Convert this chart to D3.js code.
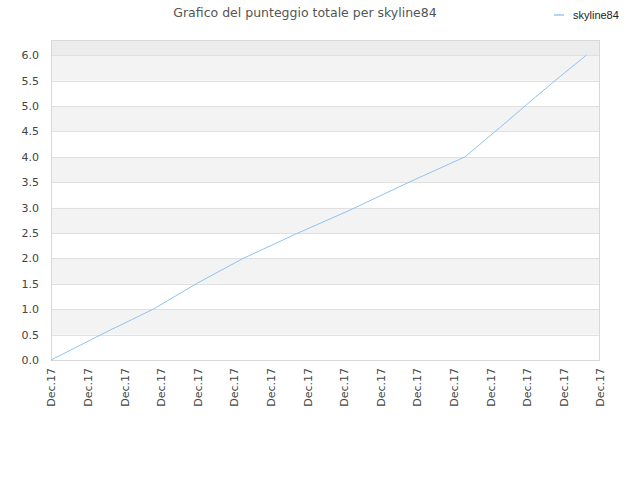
<!DOCTYPE html>
<html>
<head>
<meta charset="utf-8">
<script src="https://cdn.jsdelivr.net/npm/d3@7"></script>
<style>
  body { margin: 0; background: #fff; }
  svg { display: block; font-family: "DejaVu Sans", sans-serif; }
</style>
</head>
<body>
<div id="chart"></div>
<script>
// series: cumulative score over time
var seriesName = 'skyline84';
var times = [
  '2017-12-01T00:00', '2017-12-02T11:30', '2017-12-03T19:00', '2017-12-04T23:45',
  '2017-12-06T06:00', '2017-12-07T17:15', '2017-12-09T04:00', '2017-12-10T19:30',
  '2017-12-12T07:30', '2017-12-13T06:30', '2017-12-14T00:00', '2017-12-14T18:30',
  '2017-12-15T15:00'
];
var scores = [0.0, 0.54, 1.0, 1.51, 2.0, 2.49, 2.95, 3.51, 4.0, 4.58, 5.03, 5.5, 6.0];
var yTicks = [0, 0.5, 1, 1.5, 2, 2.5, 3, 3.5, 4, 4.5, 5, 5.5, 6];
var xStart = '2017-12-01T00:00',
    xEnd = '2017-12-16T00:00';
var title = 'Grafico del punteggio totale per skyline84';

var width = 640,
    height = 480,
    margin = {top: 40, right: 40, bottom: 120, left: 51},
    innerW = width - margin.left - margin.right,
    innerH = height - margin.top - margin.bottom;

var parse = d3.utcParse('%Y-%m-%dT%H:%M'),
    fmtX = d3.utcFormat('%b.%y');

var data = times.map(function(t, i) { return {t: parse(t), v: scores[i]}; });

var x = d3.scaleUtc()
  .domain([parse(xStart), parse(xEnd)])
  .range([0, innerW]);

var y = d3.scaleLinear()
  .domain([0, 6.3])
  .range([innerH, 0]);

var svg = d3.select('#chart')
  .append('svg')
  .attr('width', width)
  .attr('height', height);

svg.append('text')
  .attr('x', 305)
  .attr('y', 17)
  .attr('text-anchor', 'middle')
  .style('font-size', '12.5px')
  .style('fill', '#555')
  .text(title);

// legend
var legend = svg.append('g').attr('transform', 'translate(554,15)');
legend.append('line')
  .attr('x1', 0).attr('x2', 10)
  .attr('stroke', '#99c9f5')
  .attr('stroke-width', 1.5);
legend.append('text')
  .attr('x', 19)
  .attr('y', 4)
  .style('font-family', '"Liberation Sans", Arial, sans-serif')
  .style('font-size', '11px')
  .style('fill', '#222')
  .text(seriesName);

var g = svg.append('g')
  .attr('transform', 'translate(' + margin.left + ',' + margin.top + ')');

// background bands
var bands = [];
for (var i = 0; i < yTicks.length - 1; i++) {
  bands.push({lo: yTicks[i], hi: yTicks[i + 1], shade: i % 2 === 1});
}
bands.push({lo: 6, hi: y.domain()[1], top: true});

g.selectAll('rect.band')
  .data(bands)
  .enter()
  .append('rect')
  .attr('class', 'band')
  .attr('x', 0)
  .attr('width', innerW)
  .attr('y', function(d) { return y(d.hi); })
  .attr('height', function(d) { return y(d.lo) - y(d.hi); })
  .attr('fill', function(d) {
    if (d.top) return '#ececec';
    return d.shade ? '#f3f3f3' : '#ffffff';
  });

// grid lines
g.selectAll('line.grid')
  .data(yTicks.slice(1))
  .enter()
  .append('line')
  .attr('class', 'grid')
  .attr('x1', 0)
  .attr('x2', innerW)
  .attr('y1', function(d) { return Math.round(y(d)) + 0.5; })
  .attr('y2', function(d) { return Math.round(y(d)) + 0.5; })
  .attr('stroke', '#e0e0e0');

// frame
g.append('rect')
  .attr('x', 0.5)
  .attr('y', 0.5)
  .attr('width', innerW - 1)
  .attr('height', innerH)
  .attr('fill', 'none')
  .attr('stroke', '#d8d8d8');

// y axis
var yAxis = g.append('g')
  .call(d3.axisLeft(y).tickValues(yTicks).tickFormat(d3.format('.1f')).tickSize(0).tickPadding(12));
yAxis.select('.domain').remove();
yAxis.selectAll('text')
  .style('font-size', '11px')
  .style('fill', '#444')
  .style('font-family', '"DejaVu Sans", sans-serif');

// x axis
var xAxis = g.append('g')
  .attr('transform', 'translate(0,' + innerH + ')')
  .call(d3.axisBottom(x).ticks(d3.utcDay.every(1)).tickFormat(fmtX).tickSize(0));
xAxis.select('.domain').remove();
xAxis.selectAll('text')
  .attr('transform', 'rotate(-90)')
  .attr('text-anchor', 'end')
  .attr('x', -8)
  .attr('y', 0)
  .attr('dy', '0.35em')
  .style('font-size', '11px')
  .style('fill', '#444')
  .style('font-family', '"DejaVu Sans", sans-serif');

// line
var line = d3.line()
  .x(function(d) { return x(d.t); })
  .y(function(d) { return y(d.v); });

g.append('path')
  .datum(data)
  .attr('d', line)
  .attr('fill', 'none')
  .attr('stroke', '#8fc3f2')
  .attr('stroke-width', 1);
</script>
</body>
</html>
